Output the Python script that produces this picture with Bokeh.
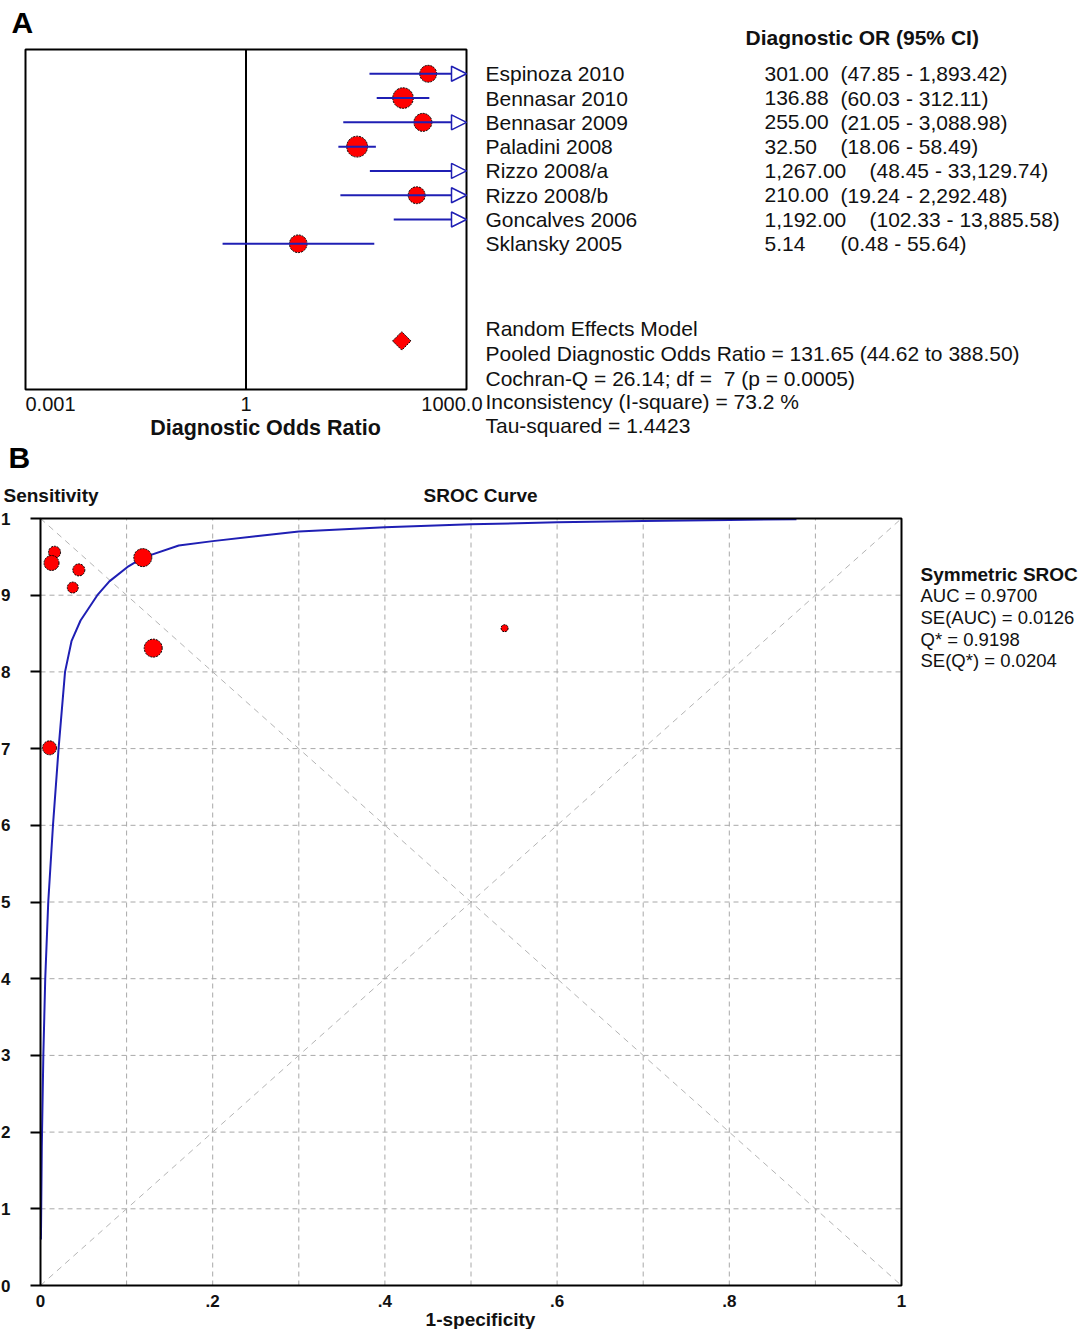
import numpy as np
from bokeh.plotting import figure
from bokeh.layouts import column
from bokeh.models import (Range1d, FixedTicker, Label, LabelSet, ColumnDataSource,
                          Arrow, NormalHead, BoxAnnotation, LinearAxis)
from bokeh.core.properties import value
from bokeh.embed import file_html
from bokeh.resources import INLINE

FONT = "Liberation Sans"
TXT = "#111111"
BLUE = "#1f1fb4"

# ---------------- Panel A data (forest plot) ----------------
studies = ["Espinoza 2010", "Bennasar 2010", "Bennasar 2009", "Paladini 2008",
           "Rizzo 2008/a", "Rizzo 2008/b", "Goncalves 2006", "Sklansky 2005"]
dor = [301.00, 136.88, 255.00, 32.50, 1267.00, 210.00, 1192.00, 5.14]
ci_low = [47.85, 60.03, 21.05, 18.06, 48.45, 19.24, 102.33, 0.48]
ci_high = [1893.42, 312.11, 3088.98, 58.49, 33129.74, 2292.48, 13885.58, 55.64]
dor_text = ["301.00", "136.88", "255.00", "32.50", "1,267.00", "210.00", "1,192.00", "5.14"]
ci_text = ["(47.85 - 1,893.42)", "(60.03 - 312.11)", "(21.05 - 3,088.98)", "(18.06 - 58.49)",
           "(48.45 - 33,129.74)", "(19.24 - 2,292.48)", "(102.33 - 13,885.58)", "(0.48 - 55.64)"]
study_weight = [11.5, 17.0, 13.0, 17.5, 10.0, 11.5, 11.0, 12.5]

pooled_dor = 131.65
stats_lines = ["Random Effects Model",
               "Pooled Diagnostic Odds Ratio = 131.65 (44.62 to 388.50)",
               "Cochran-Q = 26.14; df = \u00a07 (p = 0.0005)",
               "Inconsistency (I-square) = 73.2 %",
               "Tau-squared = 1.4423"]
forest_ticks = [0.001, 1, 1000]
forest_tick_labels = ["0.001", "1", "1000.0"]

# ---------------- Panel B data (SROC) ----------------
sroc_fpr = [0.0163, 0.0128, 0.0445, 0.0375, 0.1188, 0.1309, 0.0105, 0.539]
sroc_sens = [0.956, 0.942, 0.933, 0.910, 0.949, 0.831, 0.701, 0.857]
sroc_weight = [5.8, 9.0, 5.8, 4.8, 13.0, 13.0, 7.8, 2.0]

curve_fpr = [0.0005, 0.0015, 0.0033, 0.0055, 0.009, 0.0145, 0.021, 0.0285, 0.036, 0.0465,
             0.066, 0.080, 0.1007, 0.119, 0.1606, 0.200, 0.250, 0.300, 0.400, 0.500,
             0.600, 0.700, 0.800, 0.878]
curve_sens = [0.060, 0.180, 0.300, 0.400, 0.500, 0.600, 0.700, 0.800, 0.840, 0.867,
              0.900, 0.918, 0.9365, 0.949, 0.9648, 0.9705, 0.977, 0.983, 0.9887, 0.9925,
              0.995, 0.9967, 0.9981, 0.999]

sroc_stats = ["AUC = 0.9700", "SE(AUC) = 0.0126", "Q* = 0.9198", "SE(Q*) = 0.0204"]
sroc_ticks = [0.0, 0.1, 0.2, 0.3, 0.4, 0.5, 0.6, 0.7, 0.8, 0.9, 1.0]
y_tick_labels = ["0", "1", "2", "3", "4", "5", "6", "7", "8", "9", "1"]
x_tick_labels = ["0", "", ".2", "", ".4", "", ".6", "", ".8", "", "1"]


def lab(p, x, y, text, size, bold=False, align="left", baseline="middle", color=TXT):
    p.add_layout(Label(x=x, y=y, x_units="screen", y_units="screen", text=text,
                       text_font=FONT, text_font_size=size,
                       text_font_style="bold" if bold else "normal", text_color=color,
                       text_align=align, text_baseline=baseline))


# =============== Panel A ===============
WA, HA = 1082, 440
XMIN, XMAX = forest_ticks[0], forest_ticks[-1]
n = len(studies)
rows = list(range(1, n + 1))
pooled_row = n + 4
ROW_END = pooled_row + 2          # box spans rows 0 .. 14

boxA_l, boxA_r, boxA_t, boxA_b = 25, 466, 49, 389
dec_px = (boxA_r - boxA_l) / (np.log10(XMAX) - np.log10(XMIN))
row_px = (boxA_b - boxA_t) / ROW_END
xa0 = 10 ** (np.log10(XMIN) - boxA_l / dec_px)
xa1 = 10 ** (np.log10(XMAX) + (WA - boxA_r) / dec_px)
ya_top = -boxA_t / row_px
ya_bot = ROW_END + (HA - boxA_b) / row_px

pA = figure(width=WA, height=HA, x_axis_type="log", x_axis_location=None, y_axis_location=None,
            x_range=Range1d(xa0, xa1), y_range=Range1d(ya_bot, ya_top),
            output_backend="svg", toolbar_location=None, min_border=0)
pA.grid.visible = False
pA.outline_line_color = None

# tick labels of the log axis, placed at the tick values through the x scale
tick_src = ColumnDataSource(dict(t=forest_ticks, lab=forest_tick_labels,
                                 al=["left", "center", "right"], dx=[0, 0, 16]))
pA.add_layout(LabelSet(x="t", y=HA - 403, y_units="screen", text="lab", source=tick_src,
                       text_align="al", x_offset="dx", text_baseline="middle",
                       text_font=value(FONT), text_font_size="20px", text_color=TXT))

pA.add_layout(BoxAnnotation(left=XMIN, right=XMAX, top=0, bottom=ROW_END, fill_color=None,
                            fill_alpha=0, line_color="black", line_alpha=1, line_width=2,
                            level="underlay"))
pA.segment(x0=[1], y0=[0], x1=[1], y1=[ROW_END], line_color="black", line_width=2)

shown = [i for i in range(n) if XMIN <= dor[i] <= XMAX]
dot_src = ColumnDataSource(dict(x=[dor[i] for i in shown], y=[rows[i] for i in shown],
                                s=[5.0 * np.sqrt(study_weight[i]) for i in shown]))
pA.scatter("x", "y", size="s", source=dot_src, marker="circle", fill_color="red",
           line_color="black", line_width=1, line_dash="2 1")

inside = [i for i in range(n) if ci_high[i] <= XMAX]
seg_src = ColumnDataSource(dict(x0=[max(ci_low[i], XMIN) for i in inside],
                                x1=[ci_high[i] for i in inside],
                                y=[rows[i] for i in inside]))
pA.segment("x0", "y", "x1", "y", source=seg_src, line_color=BLUE, line_width=2)

over = [i for i in range(n) if ci_high[i] > XMAX]
arr_src = ColumnDataSource(dict(x0=[max(ci_low[i], XMIN) for i in over],
                                x1=[XMAX for i in over],
                                y=[rows[i] for i in over]))
pA.add_layout(Arrow(end=NormalHead(size=15, fill_color="white", line_color=BLUE, line_width=1.5),
                    x_start="x0", y_start="y", x_end="x1", y_end="y", source=arr_src,
                    line_color=BLUE, line_width=2))

pA.scatter([pooled_dor], [pooled_row], marker="square", angle=np.pi / 4, size=13,
           fill_color="red", line_color="black", line_width=1, line_dash="2 1")

txt_src = ColumnDataSource(dict(y=rows, name=studies, d=dor_text, ci=ci_text,
                                cx=[840 if len(t) <= 6 else 869 for t in dor_text]))
common = dict(y="y", x_units="screen", source=txt_src, text_font=value(FONT),
              text_font_size="21px", text_color=TXT, text_baseline="middle")
pA.add_layout(LabelSet(x=485, text="name", **common))
pA.add_layout(LabelSet(x=764, text="d", **common))
pA.add_layout(LabelSet(x="cx", text="ci", **common))

lab(pA, 745, HA - 37, "Diagnostic OR (95% CI)", "21px", bold=True)
for k, line in enumerate(stats_lines):
    lab(pA, 485, HA - [328, 353, 378, 401, 425][k], line, "21px")
lab(pA, 265, HA - 427, "Diagnostic Odds Ratio", "21.5px", bold=True, align="center")
lab(pA, 11, HA - 22, "A", "30px", bold=True, color="black")

# =============== Panel B ===============
WB, HB = 1082, 889
TOP_B = HA                        # page y of this canvas
X0, X1 = sroc_ticks[0], sroc_ticks[-1]
boxB_l, boxB_r, boxB_t, boxB_b = 40, 901, 518 - TOP_B, 1285 - TOP_B
xpx = (boxB_r - boxB_l) / (X1 - X0)
ypx = (boxB_b - boxB_t) / (X1 - X0)
xb0 = X0 - boxB_l / xpx
xb1 = X1 + (WB - boxB_r) / xpx
yb0 = X0 - (HB - boxB_b) / ypx
yb1 = X1 + boxB_t / ypx

pB = figure(width=WB, height=HB, x_axis_location=None, y_axis_location=None,
            x_range=Range1d(xb0, xb1), y_range=Range1d(yb0, yb1),
            output_backend="svg", toolbar_location=None, min_border=0)
pB.grid.visible = False
pB.outline_line_color = None

inner = sroc_ticks[1:-1]
pB.segment(x0=inner, y0=[X0] * len(inner), x1=inner, y1=[X1] * len(inner),
           line_color="#a8a8a8", line_dash="5 4", line_width=1)
pB.segment(x0=[X0] * len(inner), y0=inner, x1=[X1] * len(inner), y1=inner,
           line_color="#a8a8a8", line_dash="5 4", line_width=1)
pB.line([X0, X1], [X0, X1], line_color="#b4b4b4", line_dash="6 5", line_width=1)
pB.line([X0, X1], [X1, X0], line_color="#b4b4b4", line_dash="6 5", line_width=1)

ya = LinearAxis(fixed_location=X0, bounds=(X0, X1))
ya.ticker = FixedTicker(ticks=sroc_ticks, minor_ticks=[])
ya.major_label_overrides = {t: l for t, l in zip(sroc_ticks, y_tick_labels)}
ya.axis_line_color = None
ya.major_tick_out = 10
ya.major_tick_in = 0
ya.major_tick_line_width = 2
ya.major_tick_line_color = "black"
ya.major_label_standoff = 20
ya.major_label_text_font = FONT
ya.major_label_text_font_size = "17px"
ya.major_label_text_font_style = "bold"
ya.major_label_text_color = TXT
pB.add_layout(ya, "left")

xb = LinearAxis(fixed_location=X0, bounds=(X0, X1))
xb.ticker = FixedTicker(ticks=sroc_ticks, minor_ticks=[])
xb.major_label_overrides = {t: l for t, l in zip(sroc_ticks, x_tick_labels)}
xb.axis_line_color = None
xb.major_tick_line_color = None
xb.major_label_standoff = 3
xb.major_label_text_font = FONT
xb.major_label_text_font_size = "17px"
xb.major_label_text_font_style = "bold"
xb.major_label_text_color = TXT
pB.add_layout(xb, "below")

pB.line(curve_fpr, curve_sens, line_color=BLUE, line_width=2)
pB.scatter(sroc_fpr, sroc_sens, size=[5.0 * np.sqrt(w) for w in sroc_weight], marker="circle",
           fill_color="red", line_color="black", line_width=1, line_dash="2 1")
pB.add_layout(BoxAnnotation(left=X0, right=X1, bottom=X0, top=X1, fill_color=None,
                            fill_alpha=0, line_color="black", line_alpha=1, line_width=2))


def sy(page_y):
    return TOP_B + HB - page_y


lab(pB, 8, sy(457), "B", "30px", bold=True, color="black")
lab(pB, 3, sy(495), "Sensitivity", "19px", bold=True)
lab(pB, 480, sy(495), "SROC Curve", "19px", bold=True, align="center")
lab(pB, 480, sy(1319), "1-specificity", "19px", bold=True, align="center")
lab(pB, 920, sy(574), "Symmetric SROC", "19px", bold=True)
for k, line in enumerate(sroc_stats):
    lab(pB, 920, sy([595, 617, 639, 660][k]), line, "18.5px")

layout = column(pA, pB, spacing=0)
open("out.html", "w").write(file_html(layout, INLINE))
